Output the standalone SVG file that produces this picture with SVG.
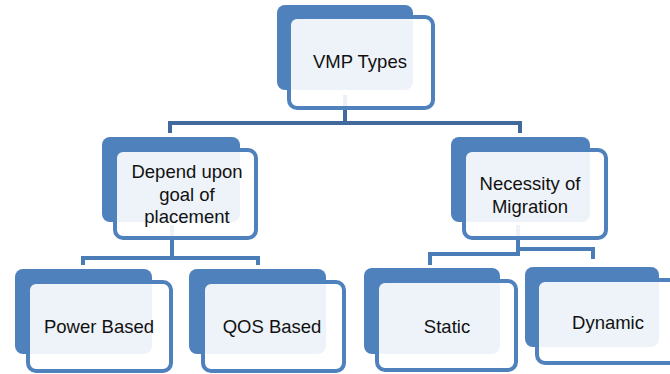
<svg xmlns="http://www.w3.org/2000/svg" width="670" height="374" viewBox="0 0 670 374">
<style>
.back{fill:#4F81BD}
.front{fill:#ffffff;fill-opacity:0.9;stroke:#4F81BD;stroke-width:4}
.t{font-family:"Liberation Sans",Arial,sans-serif;font-size:18.5px;fill:#111111;text-anchor:middle}
.c1{fill:none;stroke:#41699B;stroke-width:4;stroke-linejoin:miter}
.c2{fill:none;stroke:#4A7CB6;stroke-width:4;stroke-linejoin:miter}
</style>
<rect width="670" height="374" fill="#ffffff"/>
<g id="connectors">
<path class="c1" d="M345,95 V123 M170,133 V123 H520 V133"/>
<path class="c2" d="M172,225 V258 M83,265 V258 H258 V265"/>
<path class="c2" d="M518,225 V254 M430,265 V254 H518 V249 H593 V259"/>
</g>
<g id="vmp-types">
<rect class="back" x="277" y="5" width="136" height="85" rx="8"/>
<rect class="front" x="289" y="17" width="144" height="91" rx="8"/>
<text class="t" x="360" y="68">VMP Types</text>
</g>
<g id="depend-upon-goal">
<rect class="back" x="102" y="137" width="138" height="85" rx="8"/>
<rect class="front" x="115" y="150" width="141" height="88" rx="8"/>
<text class="t" x="187" y="178">Depend upon</text>
<text class="t" x="187" y="200.5">goal of</text>
<text class="t" x="187" y="223">placement</text>
</g>
<g id="necessity-of-migration">
<rect class="back" x="451" y="137" width="139" height="85" rx="8"/>
<rect class="front" x="464" y="150" width="142" height="88" rx="8"/>
<text class="t" x="530" y="190">Necessity of</text>
<text class="t" x="530" y="212.5">Migration</text>
</g>
<g id="power-based">
<rect class="back" x="15" y="269" width="137" height="85" rx="8"/>
<rect class="front" x="28" y="282" width="143" height="89" rx="8"/>
<text class="t" x="99" y="333">Power Based</text>
</g>
<g id="qos-based">
<rect class="back" x="189" y="269" width="137" height="85" rx="8"/>
<rect class="front" x="203" y="282" width="141" height="89" rx="8"/>
<text class="t" x="272" y="333">QOS Based</text>
</g>
<g id="static">
<rect class="back" x="364" y="268" width="136" height="86" rx="8"/>
<rect class="front" x="377" y="281" width="139" height="89" rx="8"/>
<text class="t" x="447" y="333">Static</text>
</g>
<g id="dynamic">
<rect class="back" x="525" y="267" width="134" height="80" rx="8"/>
<rect class="front" x="537" y="280" width="145" height="83" rx="8"/>
<text class="t" x="608" y="329">Dynamic</text>
</g>
</svg>
